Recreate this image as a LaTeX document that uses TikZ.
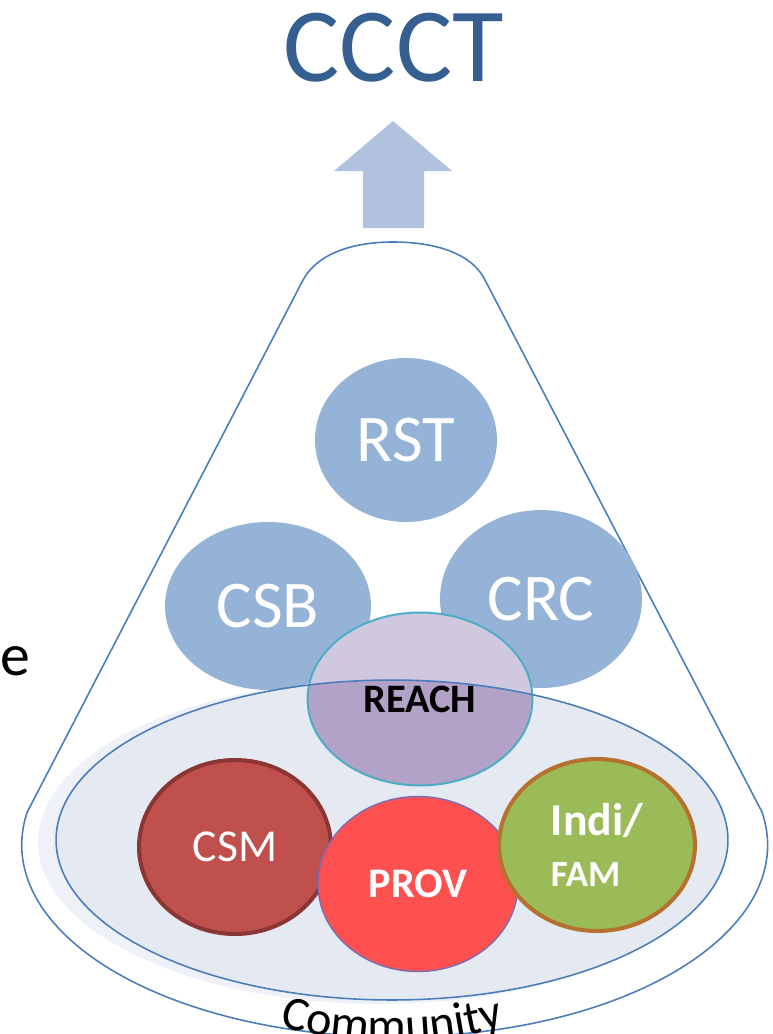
\documentclass[tikz,border=0pt]{standalone}
\usepackage{fontspec}
\setmainfont{Carlito}
\usetikzlibrary{shapes.geometric,decorations.text}

\definecolor{titleblue}{HTML}{365F91}
\definecolor{arrowblue}{HTML}{B0C2DE}
\definecolor{rimblue}{HTML}{4A7EBB}
\definecolor{blobblue}{HTML}{95B3D7}
\definecolor{commfill}{HTML}{E4E9F2}
\definecolor{commglow}{HTML}{EEF1F7}
\definecolor{reachlight}{HTML}{D0C8DE}
\definecolor{reachdark}{HTML}{B2A2C8}
\definecolor{reachrim}{HTML}{4BACC6}
\definecolor{csmred}{HTML}{C0504D}
\definecolor{csmrim}{HTML}{8B3634}
\definecolor{provred}{HTML}{FF5050}
\definecolor{provrim}{HTML}{7A6BB5}
\definecolor{indigreen}{HTML}{9BBB59}
\definecolor{indirim}{HTML}{B7712E}

\tikzstyle{rim} = [draw=rimblue, line width=0.9pt]
\tikzstyle{blob} = [ellipse, inner sep=0pt, fill=blobblue, text=white, font=\fontsize{38}{40}\selectfont]
\tikzstyle{member} = [ellipse, inner sep=0pt, text=white, line width=2.3pt, font=\bfseries\fontsize{24}{28}\selectfont]

\begin{document}
\begin{tikzpicture}[x=0.02cm,y=-0.02cm]
            %
            \useasboundingbox (0,0) rectangle (772,1034);
            \clip (0,0) rectangle (772,1034);
            % We start with the title and the arrow under it
            \node [text=titleblue, font=\fontsize{60}{62}\selectfont] (title) at (394,48) {CCCT};
            \fill [arrowblue] (393,121) -- (452,171) -- (424,171) -- (424,228) -- (363,228) -- (363,171) -- (334,171) -- cycle;
            % The cone round everything
            \draw [rim] (302,282) .. controls (318,250) and (360,242) .. (393,242)
                .. controls (428,242) and (470,250) .. (485,280) -- (762,812)
                arc [start angle=9.9, end angle=-189.9, x radius=7.46cm, y radius=3.84cm] -- cycle;
            \node [anchor=base, inner sep=0pt, font=\fontsize{34}{36}\selectfont] (eword) at (15,675) {e};
            % The community plate
            \fill [commglow] (380,842) ellipse [x radius=6.84cm, y radius=3.24cm];
            \fill [commfill] (392,840) ellipse [x radius=6.72cm, y radius=3.2cm];
            % Blue blocks at the top
            \node [blob, minimum width=3.64cm, minimum height=3.28cm] (rst) at (406,440) {RST};
            \node [blob, minimum width=4.12cm, minimum height=3.36cm] (csb) at (268,606) {CSB};
            \node [blob, minimum width=4.04cm, minimum height=3.56cm] (crc) at (541,599) {CRC};
            % REACH sits half in and half out of the plate
            \node [ellipse, fill=reachlight, minimum width=4.5cm, minimum height=3.46cm] (reach) at (420,699) {};
            \begin{scope}
                \clip (392,840) ellipse [x radius=6.72cm, y radius=3.2cm];
                \fill [reachdark] (reach.center) ellipse [x radius=2.25cm, y radius=1.73cm];
            \end{scope}
            \draw [reachrim, line width=1.1pt] (reach.center) ellipse [x radius=2.25cm, y radius=1.73cm];
            \draw [rim] (392,840) ellipse [x radius=6.72cm, y radius=3.2cm];
            \node [font=\bfseries\fontsize{23}{26}\selectfont] (reachlabel) at (reach.center) {REACH};
            % Members inside the plate
            \node [member, fill=csmred, draw=csmrim, font=\fontsize{26}{30}\selectfont,
                minimum width=3.84cm, minimum height=3.48cm] (csm) at (235,847) {CSM};
            \node [member, fill=provred, draw=provrim, line width=0.8pt,
                minimum width=4cm, minimum height=3.5cm] (prov) at (418,884) {PROV};
            \node [member, fill=indigreen, draw=indirim, align=left, font=\bfseries\fontsize{21}{29.5}\selectfont,
                minimum width=3.92cm, minimum height=3.44cm] (indi) at (597,845) {{\fontsize{26}{29.5}\selectfont Indi/}\\FAM};
            % The word along the bottom rim
            \path [decorate, decoration={text along path, text align=center,
                text={|\fontsize{27.5}{30}\selectfont|Community}}]
                (252.8,1017.5) arc [start angle=250, end angle=290, radius=8.14cm];
            %
        \end{tikzpicture}
\end{document}
